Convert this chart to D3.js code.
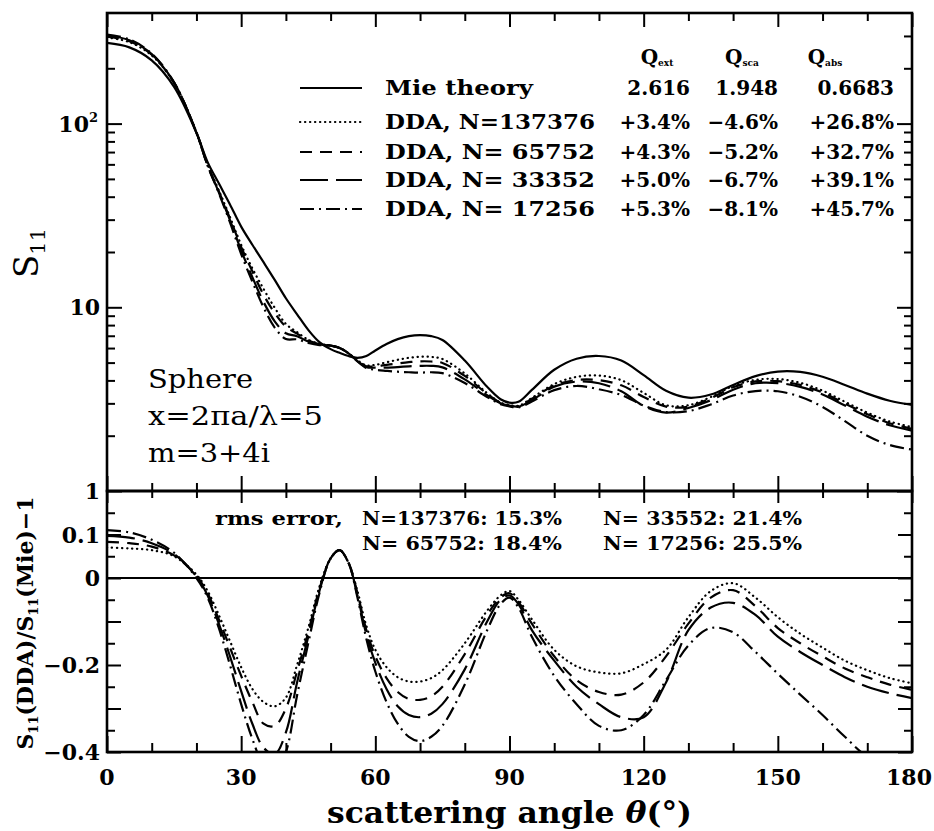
<!DOCTYPE html>
<html><head><meta charset="utf-8">
<script src="https://cdn.jsdelivr.net/npm/d3@7"></script>
<style>
body{margin:0;background:#fff}
svg text{font-family:"DejaVu Serif",serif;fill:#000}
</style></head><body>
<svg id="c" width="934" height="831"></svg>
<script>
// ---------- data ----------
const angles=[0,5,10,15,20,22.5,25,27.5,30,32.5,35,37.5,40,42.5,45,47.5,50,52,54,56,58,60,62.5,65,67.5,70,72.5,75,80,85,88,90,92,95,100,105,110,115,120,125,130,135,140,145,150,155,160,165,170,175,180];
const s11Mie=[275,260,221,158.5,89.1,61.7,47.3,36.3,27.5,21.9,17.6,14.1,11.2,9.16,7.53,6.46,5.92,5.65,5.43,5.31,5.43,5.82,6.31,6.71,6.97,7.06,6.97,6.64,5.13,3.69,3.16,3.03,3.06,3.55,4.57,5.25,5.43,5.13,4.27,3.51,3.22,3.35,3.78,4.22,4.47,4.45,4.19,3.78,3.39,3.10,2.94];
const s11N137376=[294.3,277.7,235.1,166.4,89.8,59.8,43.3,31.0,21.9,16.3,12.6,9.94,8.12,7.33,6.66,6.33,6.19,6.01,5.62,5.15,4.83,4.86,5.02,5.18,5.31,5.38,5.37,5.23,4.36,3.41,3.03,2.94,2.91,3.21,3.82,4.18,4.25,4.01,3.42,2.93,2.93,3.25,3.73,4.03,4.07,3.88,3.52,3.06,2.67,2.39,2.23];
const s11N65752=[297.8,280.8,236.9,166.7,89.5,59.5,42.8,30.5,21.3,15.7,11.7,9.31,7.84,7.19,6.59,6.30,6.19,6.01,5.62,5.12,4.78,4.77,4.86,4.95,5.03,5.08,5.07,4.98,4.23,3.38,3.02,2.92,2.89,3.18,3.75,4.02,4.01,3.76,3.25,2.88,2.88,3.20,3.67,3.95,3.96,3.78,3.44,2.99,2.62,2.34,2.18];
const s11N33352=[301.7,284.2,238.7,167.2,89.4,59.2,42.3,29.8,20.4,14.6,10.7,8.39,7.22,6.96,6.51,6.27,6.19,6.01,5.62,5.10,4.72,4.69,4.70,4.73,4.77,4.80,4.80,4.71,4.05,3.32,3.00,2.91,2.88,3.12,3.70,3.94,3.86,3.49,2.90,2.67,2.83,3.12,3.56,3.86,3.87,3.69,3.35,2.92,2.54,2.28,2.13];
const s11N17256=[305.3,287.3,240.4,167.7,89.1,58.9,41.9,29.0,19.5,13.8,10.0,7.76,6.72,6.69,6.40,6.23,6.19,6.01,5.62,5.07,4.67,4.57,4.51,4.46,4.43,4.41,4.43,4.38,3.87,3.25,2.97,2.89,2.85,3.07,3.54,3.73,3.58,3.33,2.92,2.69,2.72,2.96,3.31,3.50,3.49,3.26,2.87,2.40,2.00,1.78,1.68];
const errN137376=[0.070,0.068,0.064,0.050,0.008,-0.030,-0.085,-0.145,-0.205,-0.255,-0.285,-0.295,-0.275,-0.200,-0.115,-0.020,0.045,0.064,0.035,-0.030,-0.110,-0.165,-0.205,-0.228,-0.238,-0.238,-0.230,-0.212,-0.150,-0.075,-0.040,-0.030,-0.050,-0.095,-0.165,-0.203,-0.217,-0.219,-0.198,-0.165,-0.090,-0.030,-0.012,-0.045,-0.090,-0.128,-0.160,-0.190,-0.212,-0.230,-0.242];
const errN65752=[0.083,0.080,0.072,0.052,0.005,-0.035,-0.095,-0.160,-0.225,-0.285,-0.335,-0.340,-0.300,-0.215,-0.125,-0.025,0.045,0.064,0.035,-0.035,-0.120,-0.180,-0.230,-0.262,-0.278,-0.280,-0.272,-0.250,-0.175,-0.085,-0.045,-0.035,-0.055,-0.105,-0.180,-0.235,-0.262,-0.268,-0.240,-0.180,-0.105,-0.045,-0.028,-0.065,-0.115,-0.150,-0.180,-0.208,-0.228,-0.245,-0.257];
const errN33352=[0.097,0.093,0.080,0.055,0.003,-0.040,-0.105,-0.180,-0.260,-0.335,-0.390,-0.405,-0.355,-0.240,-0.135,-0.030,0.045,0.064,0.035,-0.040,-0.130,-0.195,-0.255,-0.295,-0.315,-0.320,-0.312,-0.290,-0.210,-0.100,-0.050,-0.040,-0.060,-0.120,-0.190,-0.250,-0.290,-0.320,-0.320,-0.240,-0.120,-0.068,-0.057,-0.085,-0.135,-0.170,-0.200,-0.228,-0.250,-0.265,-0.276];
const errN17256=[0.110,0.105,0.088,0.058,0.000,-0.045,-0.115,-0.200,-0.290,-0.370,-0.430,-0.450,-0.400,-0.270,-0.150,-0.035,0.045,0.064,0.035,-0.045,-0.140,-0.215,-0.285,-0.335,-0.365,-0.375,-0.365,-0.340,-0.245,-0.120,-0.060,-0.045,-0.068,-0.135,-0.225,-0.290,-0.340,-0.350,-0.315,-0.235,-0.155,-0.115,-0.125,-0.170,-0.220,-0.268,-0.315,-0.365,-0.410,-0.425,-0.430];

const xMajor=[0,30,60,90,120,150,180];
const xMinor=[10,20,40,50,70,80,100,110,130,140,160,170];
const yUMajor=[1,10,100];
const yUMinor=[2,3,4,5,6,7,8,9,20,30,40,50,60,70,80,90,200,300];
const yUMajorLabels=["1","10","10"];
const yLMajor=[-0.4,-0.3,-0.2,-0.1,0,0.1];
const yLMinor=[-0.35,-0.25,-0.15,-0.05,0.05,0.15];
const yLLabelValues=[0.1,0,-0.2,-0.4];
const yLLabels=["0.1","0","\u22120.2","\u22120.4"];

const legendNames=["Mie theory","DDA, N=137376","DDA, N= 65752","DDA, N= 33352","DDA, N= 17256"];
const qExtCol=["2.616","+3.4%","+4.3%","+5.0%","+5.3%"];
const qScaCol=["1.948","\u22124.6%","\u22125.2%","\u22126.7%","\u22128.1%"];
const qAbsCol=["0.6683","+26.8%","+32.7%","+39.1%","+45.7%"];
const rmsLeft=["N=137376: 15.3%","N= 65752: 18.4%"];
const rmsRight=["N= 33552: 21.4%","N= 17256: 25.5%"];

// ---------- layout ----------
const X0=107,X1=912,YT=13,YM=491,YB=752;
const svg=d3.select("#c");
const x=d3.scaleLinear().domain([0,180]).range([X0,X1]);
const yU=d3.scaleLog().domain([1,400]).range([YM,YT]);
const yL=d3.scaleLinear().domain([-0.4,0.2]).range([YB,YM]);

const defs=svg.append("defs");
defs.append("clipPath").attr("id","clipU").append("rect").attr("x",X0).attr("y",YT).attr("width",X1-X0).attr("height",YM-YT);
defs.append("clipPath").attr("id","clipL").append("rect").attr("x",X0).attr("y",YM).attr("width",X1-X0).attr("height",YB-YM);

const dashes=[null,"0.3,4.7","12,8","28,8","14,5,2,5"];
const caps=["butt","round","butt","butt","butt"];
const upperSeries=[s11Mie,s11N137376,s11N65752,s11N33352,s11N17256];
const lowerSeries=[errN137376,errN65752,errN33352,errN17256];

const lineU=d3.line().x((d,i)=>x(angles[i])).y(d=>yU(d)).curve(d3.curveCatmullRom.alpha(0.5));
const lineL=d3.line().x((d,i)=>x(angles[i])).y(d=>yL(d)).curve(d3.curveCatmullRom.alpha(0.5));

svg.append("g").attr("clip-path","url(#clipU)").selectAll("path").data(upperSeries).join("path")
  .attr("d",d=>lineU(d)).attr("fill","none").attr("stroke","#000").attr("stroke-width",2.2)
  .attr("stroke-dasharray",(d,i)=>dashes[i]).attr("stroke-linecap",(d,i)=>caps[i]);

const gl=svg.append("g").attr("clip-path","url(#clipL)");
gl.append("line").attr("x1",x(0)).attr("x2",x(180)).attr("y1",yL(0)).attr("y2",yL(0)).attr("stroke","#000").attr("stroke-width",2.2);
gl.selectAll("path").data(lowerSeries).join("path")
  .attr("d",d=>lineL(d)).attr("fill","none").attr("stroke","#000").attr("stroke-width",2.2)
  .attr("stroke-dasharray",(d,i)=>dashes[i+1]).attr("stroke-linecap",(d,i)=>caps[i+1]);

// ---------- axes ----------
function styleAxis(g){g.select(".domain").remove();g.selectAll("line").attr("stroke","#000").attr("stroke-width",2);g.selectAll("text").remove();}
function xTicks(y,gen,maj,min){
  svg.append("g").attr("transform",`translate(0,${y})`).call(gen(x).tickValues(xMajor).tickSize(maj).tickSizeOuter(0)).call(styleAxis);
  svg.append("g").attr("transform",`translate(0,${y})`).call(gen(x).tickValues(xMinor).tickSize(min).tickSizeOuter(0)).call(styleAxis);
}
xTicks(YT,d3.axisTop,-14,-8);
xTicks(YM,d3.axisBottom,-15,-8);
xTicks(YM,d3.axisTop,-12,-7);
xTicks(YB,d3.axisBottom,-16,-9);
function yTicks(xp,gen,scale,maj,min,majV,minV){
  svg.append("g").attr("transform",`translate(${xp},0)`).call(gen(scale).tickValues(majV).tickSize(maj).tickSizeOuter(0)).call(styleAxis);
  svg.append("g").attr("transform",`translate(${xp},0)`).call(gen(scale).tickValues(minV).tickSize(min).tickSizeOuter(0)).call(styleAxis);
}
yTicks(X0,d3.axisLeft,yU,-15,-8,yUMajor,yUMinor);
yTicks(X1,d3.axisRight,yU,-15,-8,yUMajor,yUMinor);
yTicks(X0,d3.axisLeft,yL,-14,-8,yLMajor,yLMinor);
yTicks(X1,d3.axisRight,yL,-14,-8,yLMajor,yLMinor);

// frames
svg.append("rect").attr("x",X0).attr("y",YT).attr("width",X1-X0).attr("height",YM-YT).attr("fill","none").attr("stroke","#000").attr("stroke-width",2.6);
svg.append("rect").attr("x",X0).attr("y",YM).attr("width",X1-X0).attr("height",YB-YM).attr("fill","none").attr("stroke","#000").attr("stroke-width",2.6);

// tick labels
const TL=22;
svg.append("g").selectAll("text").data(xMajor).join("text")
  .attr("x",d=>d===180?932:x(d)).attr("y",785).attr("text-anchor",d=>d===180?"end":"middle")
  .attr("font-size",TL).attr("font-weight","bold").text(d=>d);
const ul=svg.append("g").selectAll("text").data(yUMajor).join("text")
  .attr("x",d=>d===100?98:100).attr("y",d=>yU(d)+8).attr("text-anchor","end").attr("font-size",TL).attr("font-weight","bold").text((d,i)=>yUMajorLabels[i]);
ul.filter(d=>d===100).append("tspan").attr("font-size",13).attr("dy",-10).text("2");
svg.append("g").selectAll("text").data(yLLabelValues).join("text")
  .attr("x",100).attr("y",d=>yL(d)+8).attr("text-anchor","end").attr("font-size",TL).attr("font-weight","bold").text((d,i)=>yLLabels[i]);

// axis titles
const xt=svg.append("text").attr("x",(X0+X1)/2).attr("y",823).attr("text-anchor","middle").attr("font-size",29).attr("font-weight","bold")
  .attr("textLength",365).attr("lengthAdjust","spacingAndGlyphs");
xt.append("tspan").text("scattering angle ");
xt.append("tspan").attr("font-style","italic").text("\u03b8");
xt.append("tspan").text("(\u00b0)");

const yt=svg.append("text").attr("transform","translate(38,253) rotate(-90)").attr("text-anchor","middle").attr("font-size",34);
yt.append("tspan").text("S");
yt.append("tspan").attr("font-size",21).attr("dy",7).text("11");

const yt2=svg.append("text").attr("transform","translate(33,623) rotate(-90)").attr("text-anchor","middle").attr("font-size",22).attr("font-weight","bold")
  .attr("textLength",253).attr("lengthAdjust","spacingAndGlyphs");
yt2.append("tspan").text("S");
yt2.append("tspan").attr("font-size",13).attr("dy",5).text("11");
yt2.append("tspan").attr("dy",-5).text("(DDA)/S");
yt2.append("tspan").attr("font-size",13).attr("dy",5).text("11");
yt2.append("tspan").attr("dy",-5).text("(Mie)\u22121");

// sphere annotation
const sph=[["Sphere",388,105],["x=2\u03c0a/\u03bb=5",425,175],["m=3+4i",462,122]];
sph.forEach(s=>svg.append("text").attr("x",148).attr("y",s[1]).attr("font-size",26).attr("textLength",s[2]).attr("lengthAdjust","spacingAndGlyphs").text(s[0]));

// legend
const rowsY=[95,129,159,187,216];
const LF=20;
legendNames.forEach((n,i)=>{
  const y=rowsY[i];
  svg.append("line").attr("x1",300).attr("x2",362).attr("y1",y-7).attr("y2",y-7).attr("stroke","#000").attr("stroke-width",2.2)
    .attr("stroke-dasharray",dashes[i]).attr("stroke-linecap",caps[i]);
  svg.append("text").attr("x",385).attr("y",y).attr("font-size",LF).attr("font-weight","bold").style("white-space","pre")
    .attr("textLength",i===0?148:210).attr("lengthAdjust","spacingAndGlyphs").text(n);
  [[qExtCol,690],[qScaCol,778],[qAbsCol,894]].forEach(c=>{
    svg.append("text").attr("x",c[1]).attr("y",y).attr("text-anchor","end").attr("font-size",LF).attr("font-weight","bold").text(c[0][i]);
  });
});
[["ext",657],["sca",742],["abs",825]].forEach(q=>{
  const t=svg.append("text").attr("x",q[1]).attr("y",64).attr("text-anchor","middle").attr("font-size",LF).attr("font-weight","bold");
  t.append("tspan").text("Q");
  t.append("tspan").attr("font-size",9).attr("dy",2).text(q[0]);
});

// rms box
svg.append("text").attr("x",215).attr("y",525).attr("font-size",19).attr("font-weight","bold").attr("textLength",128).attr("lengthAdjust","spacingAndGlyphs").text("rms error,");
rmsLeft.forEach((t,i)=>svg.append("text").attr("x",362).attr("y",525+25*i).attr("font-size",19).attr("font-weight","bold").style("white-space","pre")
  .attr("textLength",200).attr("lengthAdjust","spacingAndGlyphs").text(t));
rmsRight.forEach((t,i)=>svg.append("text").attr("x",603).attr("y",525+25*i).attr("font-size",19).attr("font-weight","bold").style("white-space","pre")
  .attr("textLength",199).attr("lengthAdjust","spacingAndGlyphs").text(t));
</script>
</body></html>
